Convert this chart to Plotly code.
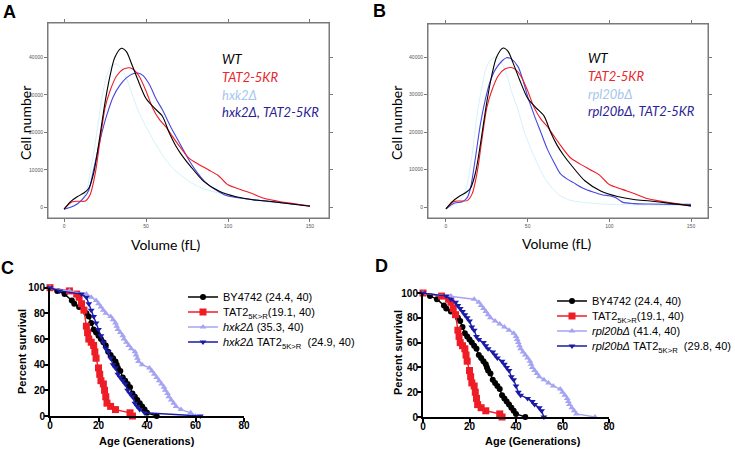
import plotly.graph_objects as go

W, H = 735, 450
def px_x(p): return p / W
def px_y(p): return 1 - p / H

# ---------------- Panel A / B : volume distributions ----------------
wt_x = [0,4,8,12,15,18,21,25,28,31,35,38,41,45,50,55,60,64,68,72,77,85,95,105,115,125,135,150]
wt_y = [-500,1500,2800,3800,5000,9000,16500,28000,35000,40000,42400,41500,38500,34000,29000,26500,24300,20000,16500,13800,11000,7000,4200,2800,2000,1600,1100,300]

tat_x = [0,5,10,13,16,19,22,25,28,32,36,40,43,46,50,54,58,62,66,70,76,82,88,94,100,108,115,122,132,140,150]
tat_y = [-500,1500,1600,1700,3500,9000,18000,26500,31000,35000,36800,37200,36500,34800,31000,26500,23500,21500,19000,16500,13200,11500,10000,8500,6000,4700,3600,2400,1500,1000,300]

hxk_x = [0,5,10,14,17,20,23,26,29,32,35,38,42,46,50,55,60,65,70,76,82,90,100,110,120,135,150]
hxk_y = [-500,300,1500,5000,12000,20000,29000,35000,37800,38200,37000,34500,29500,25000,21500,17500,14000,11000,9000,7000,5500,4300,3200,2300,1600,1000,300]

hxk_tat_x = [0,4,8,12,15,18,22,26,30,34,38,42,45,48,52,56,60,65,70,75,80,86,92,98,105,112,120,132,150]
hxk_tat_y = [-500,0,900,2500,4500,10000,18000,24500,29500,32500,34500,35600,35800,35200,32800,29000,26000,21500,17500,13500,10000,6800,4800,3300,2600,2200,1800,1200,400]

rpl_x = [0,5,10,13,16,19,22,25,28,31,34,37,40,44,48,52,56,60,65,70,76,85,95,110,130,150]
rpl_y = [-500,500,2500,6000,14000,24500,32000,37500,39500,40000,38500,35500,31000,26000,20000,15500,11500,8000,5000,3000,1800,1200,800,600,500,400]

rpl_tat_x = [0,5,10,13,15,18,21,24,27,30,34,37,40,44,47,50,54,58,62,66,70,74,78,84,90,96,100,104,108,115,125,140,150]
rpl_tat_y = [-500,1000,1400,2500,5000,13000,21900,28500,33400,36500,38800,39800,39500,37500,34000,29500,24500,20000,15500,12000,8900,7500,6500,5000,4000,3200,3000,2500,1300,900,800,700,700]

vol_ticks = [0, 50, 100, 150]
cell_ticks = [0, 10000, 20000, 30000, 40000]

# ---------------- Panel C / D : replicative lifespan ----------------
by_gen = [0,3,6,9,10,12,15,16,17,18,19,20,21,22,23,24,25,26,27,27.5,28,29,30,31,32,33,34,35,36,37,38,39,40,44]
by_surv = [100,97.5,95,90,87.5,85,80,77.5,72.5,67.5,65,62.5,60,57.5,55,50,47.5,45,42.5,40,37.5,35,30,27.5,25,22.5,17.5,15,12.5,10,7.5,5,2.5,0]

tat_gen = [0,8,11,12,13,14,15,15.5,16,17,18,18.5,19,20,20.5,21,22,22.5,23,23.5,25,27,33,34]
tat_surv = [100,97.5,95,92.5,87.5,82.5,70,65,60,57.5,55,50,45,37.5,32.5,27.5,25,20,15,10,7.5,5,2.5,0]

hxk_gen = [0,8,15,17,19,20,21,22,23,25,26,27,27.5,28,29,30,30.5,31.5,32.5,33.5,35,35.5,36,36.5,38,41,42,43,44,45,46,47,47.5,48.5,49,50,51,52,54,58,60]
hxk_surv = [100,97.5,95,92.5,90,87.5,85,82.5,80,77.5,75,72.5,70,67.5,65,62.5,60,57.5,55,52.5,50,47.5,45,42.5,40,37.5,35,32.5,30,27.5,25,22.5,20,17.5,15,12.5,10,7.5,5,2.5,0]

hxk_tat_gen = [0,4,13,15,16,17,18,19,20,21,22,23,24,25,26,27,28,29,30,31,32,33,34,35,36,37,39,62]
hxk_tat_surv = [100,97.5,95,92.5,87.5,82.5,77.5,72.5,67.5,62.5,57.5,52.5,50,45,40,37.5,32.5,30,27.5,25,20,17.5,15,10,7.5,5,2.5,0]

rpl_gen = [0,12,22,24,25,26,27,28,29,31,33,35,37,39,40,40.5,41,41.5,42,43,44,45,46,46.5,47,48,49,50,52,54,56,59,60,61,62,62.5,63,64,65,66,74]
rpl_surv = [100,97.5,95,92.5,90,87.5,85,82.5,80,77.5,75,72.5,70,67.5,65,62.5,60,57.5,55,52.5,50,47.5,45,42.5,40,37.5,35,32.5,30,27.5,25,22.5,20,17.5,15,12.5,10,7.5,5,2.5,0]

rpl_tat_gen = [0,10,12,14,15,16,17,18,19,20,21,22,23,24,26,27,28,30,31,32,34,35,36,37,38,39,40,41,42,45,47,48,50,51,52]
rpl_tat_surv = [100,97.5,95,92.5,90,87.5,85,82.5,80,77.5,72.5,70,65,62.5,60,57.5,55,52.5,50,47.5,45,42.5,40,37.5,32.5,30,25,20,17.5,15,12.5,10,7.5,5,0]

age_ticks = [0, 20, 40, 60, 80]
surv_ticks = [0, 20, 40, 60, 80, 100]

# colours
C_BLACK = "#000000"
C_RED = "#ee1c25"
C_CYAN = "#cdf1f9"
C_BLUE_LINE = "#4646e0"
C_LIGHT_TXT = "#a6c6ec"
C_NAVY_TXT = "#2a2296"
C_LAV = "#a4a4f2"
C_NAVY = "#1a1aa8"

fig = go.Figure()

def vol_trace(x, y, color, axis, width=1.1):
    fig.add_trace(go.Scatter(x=x, y=y, mode="lines", line=dict(color=color, width=width, shape="spline", smoothing=0.8),
                             xaxis="x" + axis, yaxis="y" + axis, showlegend=False, hoverinfo="skip"))

# Panel A (axis "")
vol_trace(hxk_x, hxk_y, C_CYAN, "", 0.9)
vol_trace(hxk_tat_x, hxk_tat_y, C_BLUE_LINE, "")
vol_trace(tat_x, tat_y, C_RED, "")
vol_trace(wt_x, wt_y, C_BLACK, "")
# Panel B (axis "2")
vol_trace(rpl_x, rpl_y, C_CYAN, "2", 0.9)
vol_trace(rpl_tat_x, rpl_tat_y, C_BLUE_LINE, "2")
vol_trace(tat_x, tat_y, C_RED, "2")
vol_trace(wt_x, wt_y, C_BLACK, "2")

def surv_trace(x, y, color, symbol, size, name, axis, legend):
    fig.add_trace(go.Scatter(x=x, y=y, mode="lines+markers", name=name,
                             line=dict(color=color, width=1.4),
                             marker=dict(color=color, symbol=symbol, size=size, line=dict(width=0)),
                             xaxis="x" + axis, yaxis="y" + axis, legend=legend, cliponaxis=False,
                             hoverinfo="skip"))

sub = "TAT2<sub>5K>R</sub>"
# Panel C (axis "3")
surv_trace(by_gen, by_surv, C_BLACK, "circle", 6, "BY4742 (24.4, 40)", "3", "legend")
surv_trace(tat_gen, tat_surv, C_RED, "square", 7, sub + "(19.1, 40)", "3", "legend2")
surv_trace(hxk_gen, hxk_surv, C_LAV, "triangle-up", 6, "<i>hxk2Δ</i> (35.3, 40)", "3", "legend3")
surv_trace(hxk_tat_gen, hxk_tat_surv, C_NAVY, "triangle-down", 6, "<i>hxk2Δ</i> " + sub + "  (24.9, 40)", "3", "legend4")
# Panel D (axis "4")
surv_trace(by_gen, by_surv, C_BLACK, "circle", 6, "BY4742 (24.4, 40)", "4", "legend5")
surv_trace(tat_gen, tat_surv, C_RED, "square", 7, sub + "(19.1, 40)", "4", "legend6")
surv_trace(rpl_gen, rpl_surv, C_LAV, "triangle-up", 6, "<i>rpl20bΔ</i> (41.4, 40)", "4", "legend7")
surv_trace(rpl_tat_gen, rpl_tat_surv, C_NAVY, "triangle-down", 6, "<i>rpl20bΔ</i> " + sub + "  (29.8, 40)", "4", "legend8")

frame = dict(showline=True, linecolor="#7a7a7a", linewidth=1, mirror="ticks", ticks="outside",
             ticklen=3, tickcolor="#7a7a7a", showgrid=False, zeroline=False, automargin=False,
             tickformat="d", tickfont=dict(size=5, color="#555555", family="Liberation Sans"))

prism = dict(showline=True, linecolor="black", linewidth=2, ticks="outside", ticklen=4, tickwidth=2,
             tickcolor="black", showgrid=False, zeroline=False, automargin=False,
             tickfont=dict(size=10, color="black", family="Liberation Sans, Arial", weight="bold"))

layout = dict(
    width=W, height=H, margin=dict(l=0, r=0, t=0, b=0, pad=0, autoexpand=False),
    paper_bgcolor="white", plot_bgcolor="white",
    xaxis=dict(domain=[px_x(48), px_x(329)], range=[-9.8, 161.6], tickvals=vol_ticks, anchor="y", **frame),
    yaxis=dict(domain=[px_y(218), px_y(23)], range=[-2850, 49150], tickvals=cell_ticks, anchor="x", **frame),
    xaxis2=dict(domain=[px_x(428), px_x(708)], range=[-11, 160.4], tickvals=vol_ticks, anchor="y2", **frame),
    yaxis2=dict(domain=[px_y(218), px_y(24)], range=[-2933, 48800], tickvals=cell_ticks, anchor="x2", **frame),
    xaxis3=dict(domain=[px_x(50), px_x(244)], range=[0, 80], tickvals=age_ticks, anchor="y3",
                ticklabelstandoff=-5, **prism),
    yaxis3=dict(domain=[px_y(416), px_y(287.7)], range=[0, 100], tickvals=surv_ticks, anchor="x3",
                ticklabelstandoff=-3, **prism),
    xaxis4=dict(domain=[px_x(423), px_x(609)], range=[0, 80], tickvals=age_ticks, anchor="y4",
                ticklabelstandoff=-5, **prism),
    yaxis4=dict(domain=[px_y(417), px_y(293)], range=[0, 100], tickvals=surv_ticks, anchor="x4",
                ticklabelstandoff=-3, **prism),
)

# one single-entry legend per row so the rows sit where the reference has them
leg_rows = [(183, 297), (183, 312), (183, 327), (183, 342), (552, 301), (552, 316), (552, 331), (552, 346)]
for i, (lx, ly) in enumerate(leg_rows):
    key = "legend" if i == 0 else "legend%d" % (i + 1)
    layout[key] = dict(x=px_x(lx), y=px_y(ly), xanchor="left", yanchor="middle", bgcolor="rgba(0,0,0,0)",
                       font=dict(size=11, family="Liberation Sans, Arial", color="black"),
                       borderwidth=0)
fig.update_layout(**layout)

# grey frame around the two volume panels
for ax in ["", "2"]:
    fig.add_shape(type="rect", xref="x%s domain" % ax, yref="y%s domain" % ax, x0=0, x1=1, y0=0, y1=1,
                  line=dict(color="#7a7a7a", width=1), layer="above")

ann = []
def text(x, y, s, size, color="black", xanchor="center", angle=0, family="Lato", bold=False, italic=False):
    if italic:
        s = "<i>" + s + "</i>"
    if bold:
        s = "<b>" + s + "</b>"
    ann.append(dict(x=px_x(x), y=px_y(y), xref="paper", yref="paper", text=s, showarrow=False,
                    xanchor=xanchor, yanchor="middle", textangle=angle,
                    font=dict(size=size, color=color, family=family)))

# panel letters
for lx, ly, lt in [(9, 12, "A"), (379, 11, "B"), (8, 268, "C"), (381, 266, "D")]:
    text(lx, ly, lt, 18, bold=True, family="Liberation Sans, Arial")

# A/B axis titles
text(26, 123, "Cell number", 14, angle=-90)
text(397, 123, "Cell number", 14, angle=-90)
text(166, 245, "Volume (fL)", 14)
text(557, 243, "Volume (fL)", 14)

# A/B legends as coloured text
for (x0, rows) in [(220, [(59, "WT", "black"), (77, "TAT2-5KR", "#e8262c"), (95, "hxk2Δ", C_LIGHT_TXT), (112, "hxk2Δ, TAT2-5KR", C_NAVY_TXT)]),
                   (586, [(58, "WT", "black"), (76, "TAT2-5KR", "#e8262c"), (94, "rpl20bΔ", C_LIGHT_TXT), (111, "rpl20bΔ, TAT2-5KR", C_NAVY_TXT)])]:
    for (yy, s, col) in rows:
        text(x0, yy, s, 13, color=col, xanchor="left", italic=True)

# C/D axis titles
text(22, 352, "Percent survival", 11, angle=-90, bold=True, family="Liberation Sans, Arial")
text(147, 441, "Age (Generations)", 11, bold=True, family="Liberation Sans, Arial")
text(398, 353, "Percent survival", 11, angle=-90, bold=True, family="Liberation Sans, Arial")
text(533, 441, "Age (Generations)", 11, bold=True, family="Liberation Sans, Arial")

fig.update_layout(annotations=ann)
fig.write_html("out.html", config={"displayModeBar": False},
               post_script="document.body.style.margin='0px';")
